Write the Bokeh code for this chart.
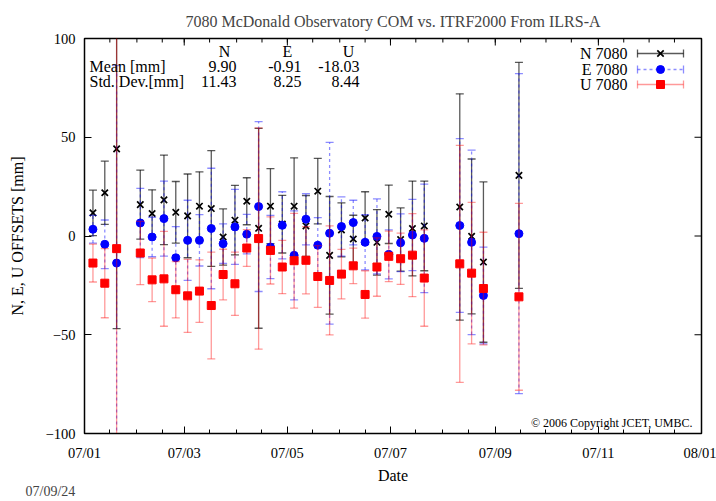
import numpy as np
import pandas as pd
from bokeh.plotting import figure
from bokeh.models import ColumnDataSource, FixedTicker, Label, Title, Range1d
from bokeh.embed import file_html
from bokeh.resources import INLINE

# ---------------- data ----------------
dates = ["2007-01-06", "2007-01-13", "2007-01-20", "2007-02-03", "2007-02-10", "2007-02-17",
         "2007-02-24", "2007-03-03", "2007-03-10", "2007-03-17", "2007-03-24", "2007-03-31",
         "2007-04-07", "2007-04-14", "2007-04-21", "2007-04-28", "2007-05-05", "2007-05-12",
         "2007-05-19", "2007-05-26", "2007-06-02", "2007-06-09", "2007-06-16", "2007-06-23",
         "2007-06-30", "2007-07-07", "2007-07-14", "2007-07-21", "2007-08-11", "2007-08-18",
         "2007-08-25", "2007-09-15"]

n_val = [11.7, 21.9, 44.1, 15.9, 11.4, 18.3, 12.0, 10.2, 15.1, 13.9, -0.5, 8.0, 17.6, 3.9, 15.1, 6.0,
         15.1, 5.1, 22.7, -9.8, 3.1, -1.5, 9.1, -3.2, 11.0, -1.8, 3.8, 5.1, 14.7, -0.2, -13.2, 30.7]
n_err = [11.5, 16.0, 91.0, 17.5, 12.0, 22.7, 15.6, 21.2, 17.4, 29.3, 14.2, 17.6, 11.9, 50.6, 19.0, 14.6,
         24.5, 15.4, 16.6, 29.8, 13.7, 12.0, 13.3, 16.6, 14.8, 16.0, 24.0, 22.7, 57.3, 39.2, 40.6, 57.2]

e_val = [3.4, -4.2, -13.7, 6.6, -0.5, 8.8, -11.0, -2.2, -2.2, 3.8, -3.9, 4.6, 0.9, 14.9, -5.6, 5.4,
         -9.8, 8.5, -4.7, 1.4, 4.8, 6.8, -3.2, -0.2, -9.3, -3.4, 0.5, -1.2, 5.3, -3.2, -30.1, 1.2]
e_err = [7.0, 12.3, 100.0, 17.5, 10.0, 19.0, 15.7, 20.3, 13.0, 30.5, 10.0, 19.0, 10.0, 43.0, 16.0, 17.0,
         22.5, 13.0, 14.0, 46.0, 15.0, 11.3, 14.0, 19.0, 12.4, 14.6, 18.0, 27.5, 44.0, 46.7, 24.5, 81.0]

u_val = [-13.7, -23.9, -6.4, -8.6, -22.2, -21.7, -27.2, -30.3, -27.9, -35.2, -19.5, -24.2, -6.1, -1.3,
         -7.3, -15.7, -12.5, -12.3, -20.5, -22.5, -19.3, -15.1, -29.6, -15.7, -10.3, -11.5, -9.7, -21.3,
         -14.1, -18.8, -26.6, -30.8]
u_err = [9.6, 17.5, 115.0, 16.0, 11.0, 24.0, 14.3, 18.5, 15.8, 27.0, 12.8, 16.0, 9.3, 56.0, 17.0, 13.5,
         24.0, 17.0, 15.6, 27.6, 12.5, 9.0, 12.0, 14.8, 12.8, 13.0, 21.0, 24.4, 60.0, 35.8, 28.5, 47.3]

series_names = ["N 7080", "E 7080", "U 7080"]
stat_cols = ["N", "E", "U"]
mean_vals = ["9.90", "-0.91", "-18.03"]
std_vals = ["11.43", "8.25", "8.44"]

tick_dates = ["2007-01-01", "2007-03-01", "2007-05-01", "2007-07-01", "2007-09-01", "2007-11-01", "2008-01-01"]
tick_labels = ["07/01", "07/03", "07/05", "07/07", "07/09", "07/11", "08/01"]
y_ticks = [-100, -50, 0, 50, 100]

title_text = "7080 McDonald Observatory COM vs. ITRF2000 From ILRS-A"
copyright_text = "\u00a9  2006 Copyright JCET, UMBC."
date_stamp = "07/09/24"

# ---------------- helpers ----------------
t0 = pd.Timestamp("2007-01-01")
def day(d):
    return (pd.Timestamp(d) - t0).days

x = [day(d) for d in dates]
X0, X1 = 0, day("2008-01-01")
Y0, Y1 = -100, 100
major_x = [day(d) for d in tick_dates]
minor_x = []
for m in range(1, 13):
    minor_x.append(day(f"2007-{m:02d}-01"))
    minor_x.append(day(f"2007-{m:02d}-16"))
minor_x.append(day("2008-01-01"))

FONT = "Liberation Serif"

# frame placement (page px) used only for decoration placement
FL, FR, FT, FB = 84, 701, 38, 433
def dxp(px):
    return X0 + (px - FL) / (FR - FL) * (X1 - X0)
def dyp(py):
    return Y1 - (py - FT) / (FB - FT) * (Y1 - Y0)

p = figure(frame_width=FR - FL, frame_height=FB - FT,
           x_range=Range1d(X0, X1), y_range=Range1d(Y0, Y1),
           output_backend="svg", toolbar_location=None,
           min_border_left=FL, min_border_right=716 - FR, min_border_top=FT,
           min_border_bottom=501 - FB)
p.grid.visible = False
p.outline_line_color = "black"
p.outline_line_width = 1.5
p.background_fill_color = "white"
p.border_fill_color = "white"

xa = p.below[0]
ya = p.left[0]

p.title.text = title_text
p.title.align = "center"
p.title.text_font = FONT
p.title.text_font_size = "16px"
p.title.text_font_style = "normal"
p.title.standoff = 18

def style_axis(ax):
    ax.major_tick_in = 7
    ax.major_tick_out = 0
    ax.minor_tick_in = 4
    ax.minor_tick_out = 0
    ax.axis_line_color = "black"
    ax.major_tick_line_color = "black"
    ax.minor_tick_line_color = "black"
    ax.major_label_text_font = FONT
    ax.major_label_text_font_size = "14.5px"
    ax.major_label_text_color = "black"
    ax.axis_label_text_font = FONT
    ax.axis_label_text_font_size = "16px"
    ax.axis_label_text_font_style = "normal"
    ax.axis_label_text_color = "black"

xticker = FixedTicker(ticks=major_x, minor_ticks=minor_x)
yticker = FixedTicker(ticks=y_ticks, minor_ticks=[])

xa.ticker = xticker
xa.major_label_overrides = {t: l for t, l in zip(major_x, tick_labels)}
style_axis(xa)
xa.axis_label = "Date"
xa.major_label_standoff = 11
xa.axis_label_standoff = 3

ya.ticker = yticker
style_axis(ya)
ya.axis_label = "N, E, U OFFSETS [mm]"
ya.major_label_standoff = 9
ya.axis_label_standoff = 17

p.add_layout(Title(text=date_stamp, align="left", offset=-59, text_font=FONT,
                   text_font_size="14px", text_font_style="normal", standoff=-9), "below")

# mirrored inward ticks on top and right edges (half of each dash is clipped by the frame)
p.scatter(x=major_x, y=[Y1] * len(major_x), marker="dash", angle=np.pi / 2, size=14,
          line_color="black", line_width=1)
p.scatter(x=minor_x, y=[Y1] * len(minor_x), marker="dash", angle=np.pi / 2, size=8,
          line_color="black", line_width=1)
p.scatter(x=[X1] * len(y_ticks), y=y_ticks, marker="dash", size=14, line_color="black", line_width=1)

# ---------------- series ----------------
def draw(vals, errs, color, marker, msize, dash, bar_alpha):
    v = np.array(vals)
    e = np.array(errs)
    src = ColumnDataSource(dict(x=x, y=v, lo=v - e, hi=v + e))
    p.segment(x0="x", y0="lo", x1="x", y1="hi", source=src, line_color=color,
              line_alpha=bar_alpha, line_width=1.3, line_dash=dash)
    for k in ("lo", "hi"):
        p.scatter(x="x", y=k, source=src, marker="dash", size=8, line_color=color,
                  line_alpha=bar_alpha, line_width=1.3)
    if marker == "x":
        p.scatter(x="x", y="y", source=src, marker="x", size=msize, line_color=color, line_width=1.7)
    else:
        p.scatter(x="x", y="y", source=src, marker=marker, size=msize, fill_color=color,
                  line_color=color)

colors = ["black", "blue", "red"]
draw(n_val, n_err, colors[0], "x", 9, "solid", 0.65)
draw(e_val, e_err, colors[1], "circle", 8, "3 3", 0.45)
draw(u_val, u_err, colors[2], "square", 8, "solid", 0.4)

# ---------------- legend (manual, label left of sample) ----------------
leg_py = [53, 69, 84]
leg_markers = ["x", "circle", "square"]
leg_dash = ["solid", "3 3", "solid"]
leg_alpha = [0.65, 0.45, 0.4]
for name, py, c, mk, ds, al in zip(series_names, leg_py, colors, leg_markers, leg_dash, leg_alpha):
    yy = dyp(py)
    p.segment(x0=[dxp(637)], y0=[yy], x1=[dxp(683)], y1=[yy], line_color=c, line_alpha=al,
              line_width=1.3, line_dash=ds)
    p.scatter(x=[dxp(637), dxp(683)], y=[yy, yy], marker="dash", angle=np.pi / 2, size=8,
              line_color=c, line_alpha=al, line_width=1.3)
    if mk == "x":
        p.scatter(x=[dxp(660)], y=[yy], marker="x", size=9, line_color=c, line_width=1.7)
    else:
        p.scatter(x=[dxp(660)], y=[yy], marker=mk, size=8, fill_color=c, line_color=c)
    p.add_layout(Label(x=dxp(627), y=yy, text=name, text_align="right", text_baseline="middle",
                       text_font=FONT, text_font_size="16px", text_color="black"))

# ---------------- texts ----------------
col_right = [236, 301, 359]
col_center = [224, 287, 348]
row_py = [51, 66, 81]
def lab(px, py, text, align, size="16px"):
    p.add_layout(Label(x=dxp(px), y=dyp(py), text=text, text_align=align, text_baseline="middle",
                       text_font=FONT, text_font_size=size, text_color="black"))

for cx, s in zip(col_center, stat_cols):
    lab(cx, row_py[0], s, "center")
lab(89, row_py[1], "Mean [mm]", "left")
lab(89, row_py[2], "Std. Dev.[mm]", "left")
for cx, mv, sv in zip(col_right, mean_vals, std_vals):
    lab(cx, row_py[1], mv, "right")
    lab(cx, row_py[2], sv, "right")

lab(695, 422, copyright_text, "right", "12px")

open("out.html", "w").write(file_html(p, INLINE))
